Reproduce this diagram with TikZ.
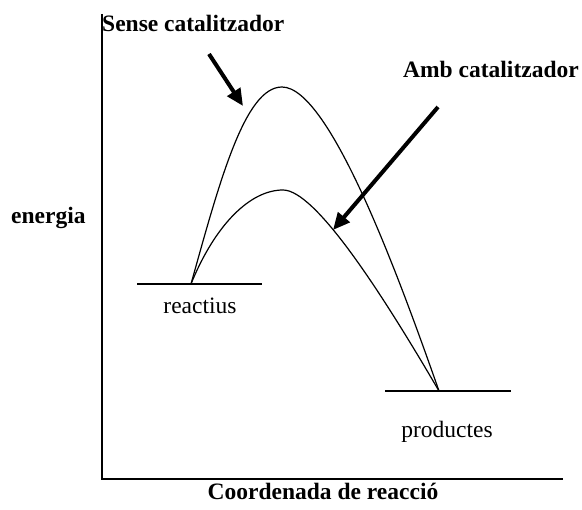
\documentclass[tikz,border=0pt]{standalone}
\usepackage{fontspec}
\setmainfont{Liberation Serif}
\usetikzlibrary{arrows.meta}

\begin{document}
\begin{tikzpicture}[x=1pt,y=-1pt,
  txt/.style={font=\fontsize{23.5}{28}\selectfont, inner sep=0pt},
  btxt/.style={txt, font=\fontsize{23.5}{28}\selectfont\bfseries},
  corba/.style={line width=1.2pt},
  nivell/.style={line width=2pt},
  fletxa/.style={line width=4pt, -{Triangle[length=17pt,width=15pt]}}]

\useasboundingbox (0,0) rectangle (582,510);

% 坐标轴
\coordinate (Ytop) at (102,14);
\coordinate (O) at (102,479);
\coordinate (Xend) at (563,479);
\draw[line width=1.6pt] (Ytop) -- (O) -- (Xend);

% 能级
\coordinate (R) at (191,284);
\coordinate (P) at (439,391);
\draw[nivell] (137,284) -- (262,284);
\draw[nivell] (385,391) -- (511,391);

% 曲线
\coordinate (peakS) at (282,87);
\coordinate (peakA) at (283,190);
\draw[corba] (R) .. controls (220,180) and (245,87) .. (peakS)
             .. controls (330,87) and (400,280) .. (P);
\draw[corba] (R) .. controls (215,225) and (250,190) .. (peakA)
             .. controls (315,190) and (380,290) .. (P);

% 箭头
\coordinate (s1) at (209,54);
\coordinate (s2) at (243,106);
\coordinate (a1) at (438,107);
\coordinate (a2) at (333,230);
\draw[fletxa] (s1) -- (s2);
\draw[fletxa] (a1) -- (a2);

% 标记文字
\node[btxt, anchor=base west] (sense) at (102,32) {Sense catalitzador};
\node[btxt, anchor=base west] (amb) at (403,78) {Amb catalitzador};
\node[btxt, anchor=base west] (energia) at (11,224) {energia};
\node[txt, anchor=base] (reactius) at (200,314) {reactius};
\node[txt, anchor=base] (productes) at (447,438) {productes};
\node[btxt, anchor=base] (coord) at (323,500) {Coordenada de reacció};

\end{tikzpicture}
\end{document}
